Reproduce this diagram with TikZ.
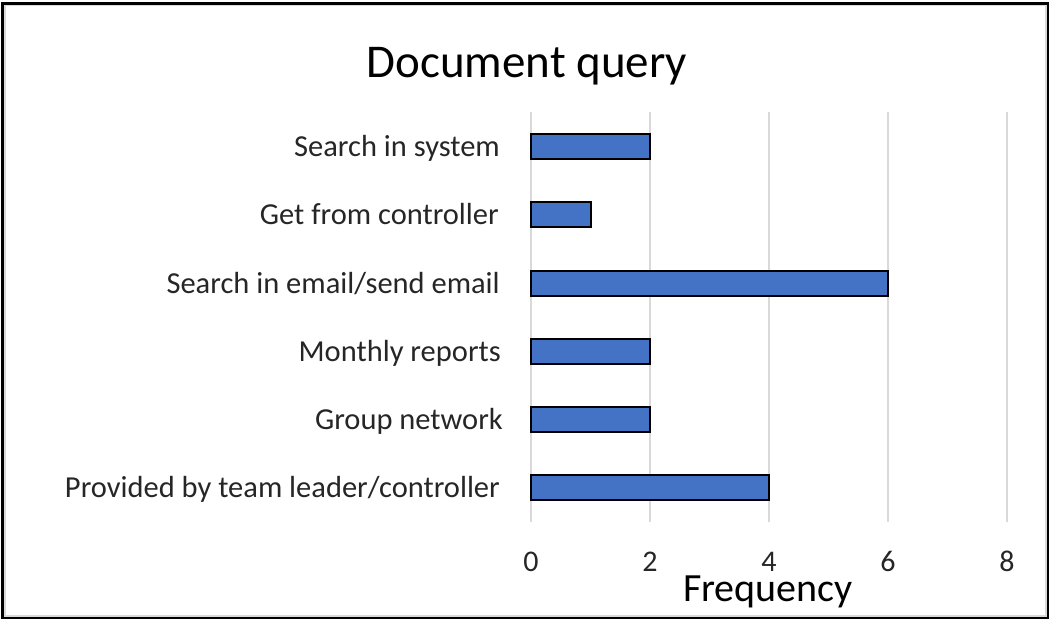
\documentclass[tikz,border=0pt]{standalone}
\usepackage{fontspec}
\setmainfont{Carlito}
\definecolor{barblue}{HTML}{4472C4}
\definecolor{gridgray}{HTML}{D9D9D9}
\begin{document}
\begin{tikzpicture}[x=1pt,y=-1pt,
  bar/.style={draw=black,line width=2pt,fill=barblue},
  grid/.style={draw=gridgray,line width=2pt},
  cat/.style={anchor=base east,font=\fontsize{30.5}{36}\selectfont,inner sep=0pt,text=black!85},
  tick/.style={anchor=base,font=\fontsize{30}{36}\selectfont,inner sep=0pt,text=black!85,text depth=0pt}]
\useasboundingbox (0,0) rectangle (1052,621);
% frame
\draw[gridgray,line width=2pt] (5,5) rectangle (1046,616);
\draw[black,line width=2.5pt] (2.5,3.5) rectangle (1048,618);
% vertical grid lines, one per tick
\foreach \v in {0,2,4,6,8}
  \draw[grid] ({531+59.5*\v},112) -- ({531+59.5*\v},522);
% bars
\foreach \val/\yc [count=\i] in {2/146,1/214,6/283,2/351,2/419,4/487}
  \draw[bar] (531,\yc-12.5) rectangle ({531+59.5*\val},\yc+12.5);
% category labels
\node[cat] (c1) at (500,156) {Search in system};
\node[cat] (c2) at (499,224) {Get from controller};
\node[cat] (c3) at (500,293) {Search in email/send email};
\node[cat] (c4) at (501,361) {Monthly reports};
\node[cat] (c5) at (503,429) {Group network};
\node[cat] (c6) at (500,497) {Provided by team leader/controller};
% tick labels
\foreach \v in {0,2,4,6,8}
  \node[tick] (t\v) at ({531+59.5*\v},571) {\v};
% titles
\node[anchor=base,font=\fontsize{47}{54}\selectfont,inner sep=0pt] (title) at (527,77) {Document query};
\node[anchor=base,font=\fontsize{40}{46}\selectfont,inner sep=0pt,text height=20pt] (xlabel) at (768,601) {Frequency};
\end{tikzpicture}
\end{document}
